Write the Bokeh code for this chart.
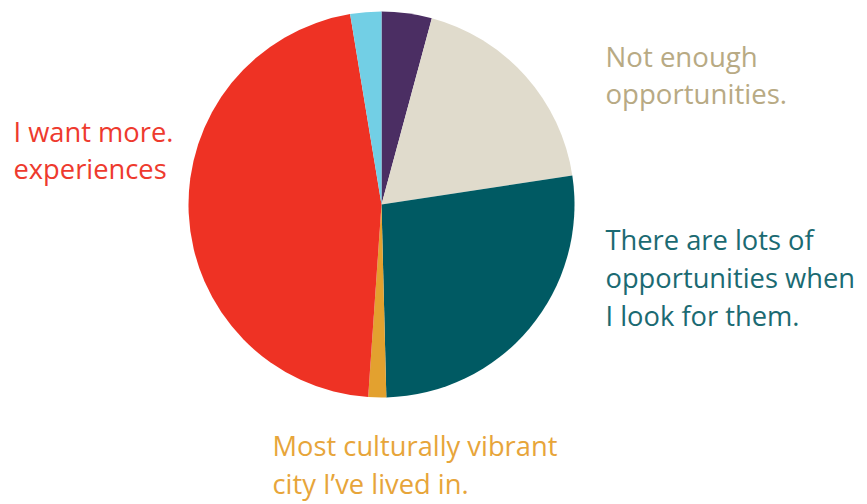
import numpy as np
from bokeh.plotting import figure
from bokeh.models import Range1d
from bokeh.core.properties import value
from bokeh.embed import file_html
from bokeh.resources import INLINE

# Data (percent shares, clockwise from 12 o'clock)
categories = ["Purple", "Not enough opportunities.", "There are lots of opportunities when I look for them.",
              "Most culturally vibrant city I've lived in.", "I want more. experiences", "Light blue"]
shares = [4.2, 18.4, 27.0, 1.5, 46.3, 2.6]
slice_colors = ["#4B2E63", "#E0DBCC", "#005A63", "#E3A12F", "#EE3224", "#72CFE5"]

label_lines = [
    ["I want more.", "experiences"],
    ["Not enough", "opportunities."],
    ["There are lots of", "opportunities when", "I look for them."],
    ["Most culturally vibrant", "city I\u2019ve lived in."],
]
label_colors = ["#EE3A2E", "#B8AA84", "#1B6A72", "#E7A53A"]

# Layout (pixel positions, y measured from top)
W, H = 867, 504
cx, cy, r = 381, 204, 193
label_x = [13, 605, 605, 272]
label_y0 = [140, 64, 248, 454]
label_gap = [37, 37, 38, 38]
label_size = [27.3, 27.6, 27.3, 27.3]
baseline_fix = 9

p = figure(width=W, height=H, x_range=Range1d(0, W), y_range=Range1d(0, H),
           output_backend="svg", toolbar_location=None, min_border=0)
p.axis.visible = False
p.grid.visible = False
p.outline_line_color = None
p.background_fill_color = "white"

total = float(sum(shares))
cum = np.concatenate([[0.0], np.cumsum(shares)]) / total * 2 * np.pi
start = np.pi / 2 - cum[:-1]
end = np.pi / 2 - cum[1:]
p.wedge(x=[cx] * len(shares), y=[H - cy] * len(shares), radius=r,
        start_angle=start, end_angle=end, direction="clock",
        fill_color=slice_colors, line_color=None)

for lines, col, x, y0, gap, sz in zip(label_lines, label_colors, label_x, label_y0, label_gap, label_size):
    xs = [x] * len(lines)
    ys = [H - (y0 - baseline_fix + i * gap) for i in range(len(lines))]
    p.text(x=xs, y=ys, text=lines, text_color=col, text_font=value("Open Sans"),
           text_font_size=f"{sz}px", text_baseline="alphabetic", text_align="left")

open("out.html", "w").write(file_html(p, INLINE))
